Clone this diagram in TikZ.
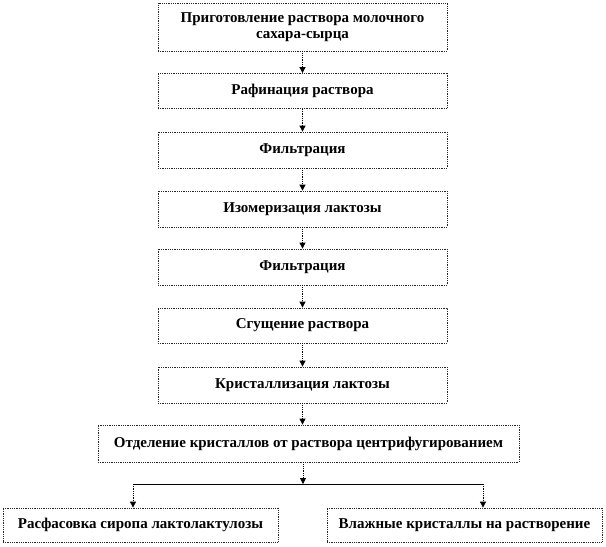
\documentclass[tikz,border=0pt]{standalone}
\usepackage{fontspec}
\setmainfont{Liberation Serif}
\usepackage{tikz}
\usetikzlibrary{positioning,arrows.meta}

\begin{document}
\begin{tikzpicture}[x=1pt, y=-1pt,
    stage/.style={draw=black!85, densely dotted, line width=0.8pt, fill=white,
      align=center, inner sep=2pt,
      font=\bfseries\fontsize{15}{16}\selectfont},
    flow/.style={->, densely dotted, line width=0.8pt},
    >={Triangle[length=6pt, width=6pt]}]
  \useasboundingbox (0,0) rectangle (606,547);
  % main column
  \node[stage, minimum width=289, minimum height=48] (prep) at (302.5,27)
    {Приготовление раствора молочного\\сахара-сырца};
  \node[stage, minimum width=289, minimum height=35] (raf) at (302.5,91) {Рафинация раствора};
  \node[stage, minimum width=289, minimum height=36] (filt1) at (302.5,150) {Фильтрация};
  \node[stage, minimum width=289, minimum height=36] (isom) at (302.5,209) {Изомеризация лактозы};
  \node[stage, minimum width=289, minimum height=36] (filt2) at (302.5,267) {Фильтрация};
  \node[stage, minimum width=289, minimum height=35] (conc) at (302.5,325.5) {Сгущение раствора};
  \node[stage, minimum width=289, minimum height=36] (cryst) at (302.5,385) {Кристаллизация лактозы};
  \node[stage, minimum width=421, minimum height=37] (centr) at (308.5,443.5)
    {Отделение кристаллов от раствора центрифугированием};
  % outputs
  \node[stage, minimum width=275, minimum height=34] (syrup) at (140.5,525)
    {Расфасовка сиропа лактолактулозы};
  \node[stage, minimum width=275, minimum height=34] (wet) at (464.5,525)
    {Влажные кристаллы на растворение};

  \draw[flow] (prep) -- (raf);
  \draw[flow] (raf) -- (filt1);
  \draw[flow] (filt1) -- (isom);
  \draw[flow] (isom) -- (filt2);
  \draw[flow] (filt2) -- (conc);
  \draw[flow] (conc) -- (cryst);
  \draw[flow] (cryst.south) -- (cryst.south |- centr.north);

  \coordinate (fork) at (303,484);
  \coordinate (forkl) at (133,484);
  \coordinate (forkr) at (483,484);
  \draw[flow] (fork |- centr.south) -- (fork);
  \draw[line width=0.8pt] (forkl) -- (forkr);
  \draw[flow] (forkl) -- (forkl |- syrup.north);
  \draw[flow] (forkr) -- (forkr |- wet.north);
\end{tikzpicture}
\end{document}
